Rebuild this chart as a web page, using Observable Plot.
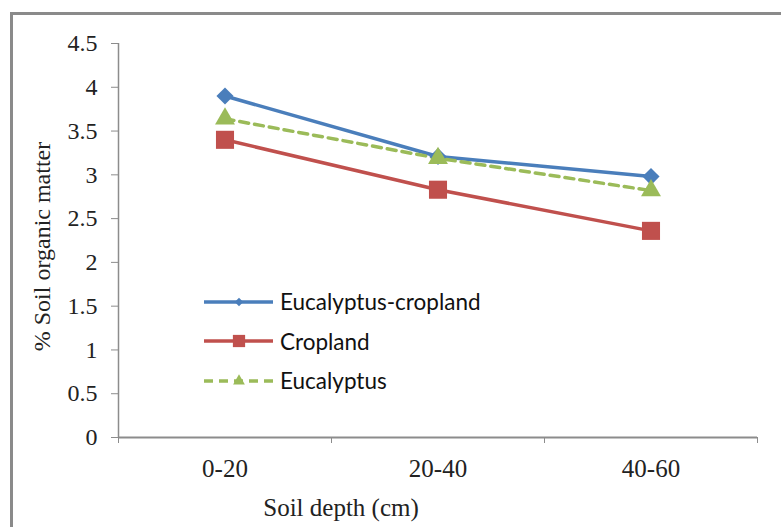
<!DOCTYPE html>
<html>
<head>
<meta charset="utf-8">
<script src="https://cdn.jsdelivr.net/npm/d3@7"></script>
<script src="https://cdn.jsdelivr.net/npm/@observablehq/plot@0.6"></script>
<style>
  html, body { margin: 0; padding: 0; background: #fff; }
  #wrap { position: relative; width: 781px; height: 527px; overflow: hidden; }
  #wrap svg.plot { position: absolute; left: 0; top: 0; }
  #frame { position: absolute; left: 10px; top: 12px; width: 800px; height: 600px;
           border-top: 3px solid #8a8a8a; border-left: 3px solid #8a8a8a; pointer-events: none; }
  #legend { position: absolute; left: 203px; top: 282px; font-family: Lato, "Open Sans", sans-serif;
            font-size: 22.5px; color: #111; }
  #legend .row { display: flex; align-items: center; height: 39.5px; }
  #legend svg { margin-right: 5px; }
</style>
</head>
<body>
<div id="wrap">
  <div id="frame"></div>
  <div id="legend"></div>
</div>
<script>
// Soil depth classes and % soil organic matter for each land use
const categories = ["0-20", "20-40", "40-60"];
const eucalyptusCropland = [3.9, 3.21, 2.98];
const cropland = [3.4, 2.83, 2.36];
const eucalyptus = [3.64, 3.19, 2.82];
const yTicks = [0, 0.5, 1, 1.5, 2, 2.5, 3, 3.5, 4, 4.5];

const seriesDefs = [
  {name: "Eucalyptus-cropland", values: eucalyptusCropland, color: "#4a7ebb", symbol: "diamond2", r: 7.7, dash: null},
  {name: "Cropland", values: cropland, color: "#c0504d", symbol: "square", r: 10.2, dash: null},
  {name: "Eucalyptus", values: eucalyptus, color: "#9bbb59", symbol: "triangle", r: 7.4, dash: "9,6"}
];

// each category sits in the middle of its slot on a 0..n axis
const rows = seriesDefs.flatMap(s => s.values.map((v, i) => ({series: s.name, x: i + 0.5, v})));
const boundaries = d3.range(categories.length + 1);
const centers = categories.map((c, i) => i + 0.5);

const marks = [
  Plot.ruleY([0], {stroke: "#8c8c8c", strokeWidth: 2}),
  Plot.ruleX([0], {stroke: "#8c8c8c", strokeWidth: 1.5}),
  Plot.axisY({ticks: yTicks, tickFormat: d => String(d), tickSize: 7, tickPadding: 14, label: null,
              stroke: "#8c8c8c", fill: "#222", fontSize: 24}),
  Plot.axisX({ticks: boundaries, tickFormat: () => "", tickSize: 6, stroke: "#8c8c8c", label: null}),
  Plot.axisX({ticks: centers, tickFormat: d => categories[Math.round(d - 0.5)], tickSize: 0,
              tickPadding: 22, fill: "#222", fontSize: 25, label: null}),
  Plot.text(["Soil depth (cm)"], {frameAnchor: "bottom", dx: -97, dy: 78, fill: "#222", fontSize: 25}),
  Plot.text(["% Soil organic matter"], {frameAnchor: "left", textAnchor: "middle", rotate: -90,
                                        dx: -76, dy: 6, fill: "#222", fontSize: 24})
];

for (const s of seriesDefs) {
  const data = rows.filter(d => d.series === s.name);
  marks.push(Plot.line(data, {x: "x", y: "v", stroke: s.color, strokeWidth: 3.5,
                              strokeDasharray: s.dash, curve: "linear"}));
}
for (const s of seriesDefs) {
  const data = rows.filter(d => d.series === s.name);
  marks.push(Plot.dot(data, {x: "x", y: "v", symbol: () => s.symbol, fill: s.color, stroke: "none", r: s.r}));
}

const chart = Plot.plot({
  width: 781,
  height: 527,
  marginLeft: 118,
  marginRight: 24,
  marginTop: 43,
  marginBottom: 90,
  style: {fontFamily: "'Liberation Serif', 'Times New Roman', serif", fontSize: "24px", background: "transparent"},
  x: {type: "linear", domain: [0, categories.length], axis: null},
  y: {domain: [0, 4.5], axis: null},
  symbol: {type: "identity"},
  marks
});
chart.classList.add("plot");
document.getElementById("wrap").prepend(chart);

// legend: sample line with its marker, then the series name
const legend = d3.select("#legend");
for (const s of seriesDefs) {
  const row = legend.append("div").attr("class", "row");
  const sv = row.append("svg").attr("width", 72).attr("height", 20);
  sv.append("line").attr("x1", 1).attr("x2", 70).attr("y1", 10).attr("y2", 10)
    .attr("stroke", s.color).attr("stroke-width", 3.5).attr("stroke-dasharray", s.dash);
  const sym = {diamond2: d3.symbolDiamond2, square: d3.symbolSquare, triangle: d3.symbolTriangle}[s.symbol];
  const size = {diamond2: 45, square: 150, triangle: 60}[s.symbol];
  sv.append("path").attr("d", d3.symbol(sym, size)()).attr("transform", "translate(36,10)").attr("fill", s.color);
  row.append("span").text(s.name);
}
</script>
</body>
</html>
